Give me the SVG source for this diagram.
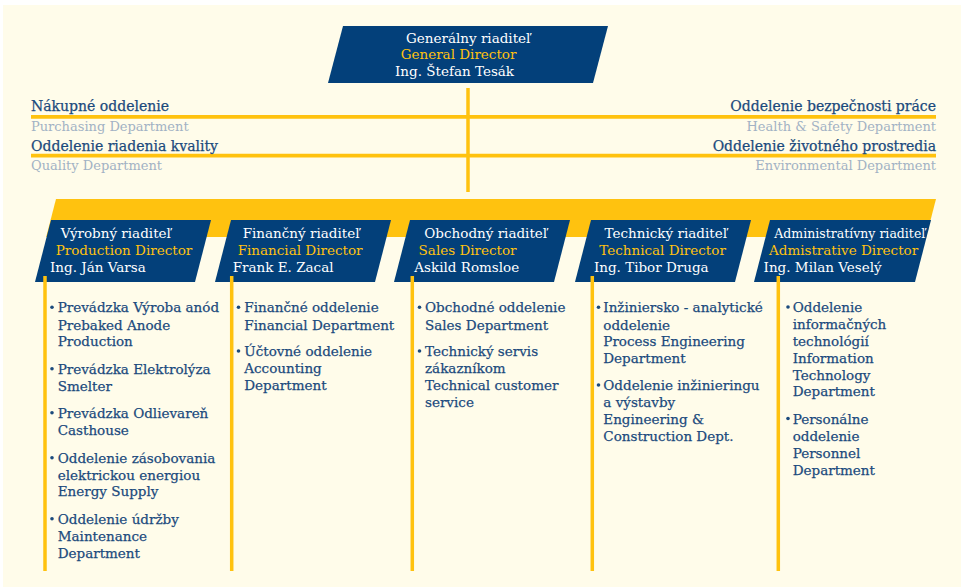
<svg xmlns="http://www.w3.org/2000/svg" width="964" height="588" viewBox="0 0 964 588">
<style>
text{font-family:"DejaVu Serif","Liberation Serif",serif;font-size:13.5px}
.w{fill:#ffffff}
.y{fill:#FFC20F}
.n{fill:#1B4A7D;stroke:#1B4A7D;stroke-width:0.25}
.t{font-size:14px}
.g{fill:#A2B2C4;font-size:13px}
.box{fill:#03407A}
.yl{stroke:#FFC20F;stroke-width:3.7;fill:none}
.col{stroke:#FFC20F;stroke-width:3.5;fill:none}
.b{fill:#1B4A7D}
</style>
<rect x="0" y="0" width="964" height="588" fill="#ffffff"/>
<rect x="3" y="5" width="958" height="582" fill="#FFFCEA"/>
<g id="connectors">
<line class="yl" x1="31" y1="116.8" x2="936" y2="116.8"/>
<line class="yl" x1="31" y1="155.7" x2="936" y2="155.7"/>
<line class="col" x1="468" y1="88" x2="468" y2="192"/>
<polygon points="56,199 936,199 926.2,237 46.2,237" fill="#FFC20F"/>
</g>
<g id="node-general-director">
<polygon class="box" points="343,26 608,26 593,83 328,83"/>
<text class="w" x="406" y="42.5">Generálny riaditeľ</text>
<text class="y" x="400.7" y="59">General Director</text>
<text class="w" x="395" y="75.5">Ing. Štefan Tesák</text>
</g>
<g id="node-purchasing">
<text class="n t" x="31" y="110.7">Nákupné oddelenie</text>
<text class="g" x="31" y="131">Purchasing Department</text>
</g>
<g id="node-quality">
<text class="n t" x="31" y="151">Oddelenie riadenia kvality</text>
<text class="g" x="31" y="169.5">Quality Department</text>
</g>
<g id="node-safety">
<text class="n t" x="936" y="110.7" text-anchor="end">Oddelenie bezpečnosti práce</text>
<text class="g" x="936" y="131" text-anchor="end">Health &amp; Safety Department</text>
</g>
<g id="node-environment">
<text class="n t" x="936" y="151" text-anchor="end">Oddelenie životného prostredia</text>
<text class="g" x="936" y="169.5" text-anchor="end">Environmental Department</text>
</g>
<g id="node-production">
<polygon class="box" points="51,220 211,220 195,282 35,282"/>
<text class="w" x="60.7" y="238">Výrobný riaditeľ</text>
<text class="y" x="55.7" y="255">Production Director</text>
<text class="w" x="50" y="272">Ing. Ján Varsa</text>
</g>
<g id="node-financial">
<polygon class="box" points="231,220 391,220 375,282 215,282"/>
<text class="w" x="242.7" y="238">Finančný riaditeľ</text>
<text class="y" x="237.7" y="255">Financial Director</text>
<text class="w" x="232.7" y="272">Frank E. Zacal</text>
</g>
<g id="node-sales">
<polygon class="box" points="410,220 570,220 554,282 394,282"/>
<text class="w" x="424.3" y="238">Obchodný riaditeľ</text>
<text class="y" x="418.6" y="255">Sales Director</text>
<text class="w" x="414.3" y="272">Askild Romsloe</text>
</g>
<g id="node-technical">
<polygon class="box" points="591,220 751,220 735,282 575,282"/>
<text class="w" x="604.6" y="238">Technický riaditeľ</text>
<text class="y" x="599.3" y="255">Technical Director</text>
<text class="w" x="593.9" y="272">Ing. Tibor Druga</text>
</g>
<g id="node-administrative">
<polygon class="box" points="770,220 931,220 915,282 754,282"/>
<text class="w" x="774.3" y="238" textLength="151" lengthAdjust="spacingAndGlyphs">Administratívny riaditeľ</text>
<text class="y" x="769" y="255">Admistrative Director</text>
<text class="w" x="763.6" y="272">Ing. Milan Veselý</text>
</g>
<g id="column-lines">
<line class="col" x1="45" y1="276" x2="45" y2="571"/>
<line class="col" x1="231.7" y1="276" x2="231.7" y2="571"/>
<line class="col" x1="412.3" y1="276" x2="412.3" y2="571"/>
<line class="col" x1="592.3" y1="276" x2="592.3" y2="571"/>
<line class="col" x1="778.3" y1="276" x2="778.3" y2="571"/>
</g>
<g id="list-production">
<circle class="b" cx="52" cy="307.3" r="1.8"/>
<text class="n" x="57.7" y="312.3">Prevádzka Výroba anód</text>
<text class="n" x="57.7" y="329.5">Prebaked Anode</text>
<text class="n" x="57.7" y="346">Production</text>
<circle class="b" cx="52" cy="368.8" r="1.8"/>
<text class="n" x="57.7" y="373.8">Prevádzka Elektrolýza</text>
<text class="n" x="57.7" y="391">Smelter</text>
<circle class="b" cx="52" cy="412.8" r="1.8"/>
<text class="n" x="57.7" y="417.8">Prevádzka Odlievareň</text>
<text class="n" x="57.7" y="435">Casthouse</text>
<circle class="b" cx="52" cy="457.8" r="1.8"/>
<text class="n" x="57.7" y="462.8">Oddelenie zásobovania</text>
<text class="n" x="57.7" y="479.5">elektrickou energiou</text>
<text class="n" x="57.7" y="496">Energy Supply</text>
<circle class="b" cx="52" cy="518.8" r="1.8"/>
<text class="n" x="57.7" y="523.8">Oddelenie údržby</text>
<text class="n" x="57.7" y="540.5">Maintenance</text>
<text class="n" x="57.7" y="557.8">Department</text>
</g>
<g id="list-financial">
<circle class="b" cx="238.5" cy="307.3" r="1.8"/>
<text class="n" x="244.3" y="312.3">Finančné oddelenie</text>
<text class="n" x="244.3" y="330">Financial Department</text>
<circle class="b" cx="238.5" cy="351" r="1.8"/>
<text class="n" x="244.3" y="356">Účtovné oddelenie</text>
<text class="n" x="244.3" y="373.3">Accounting</text>
<text class="n" x="244.3" y="390">Department</text>
</g>
<g id="list-sales">
<circle class="b" cx="419.5" cy="307.3" r="1.8"/>
<text class="n" x="425" y="312.3">Obchodné oddelenie</text>
<text class="n" x="425" y="330">Sales Department</text>
<circle class="b" cx="419.5" cy="351" r="1.8"/>
<text class="n" x="425" y="356">Technický servis</text>
<text class="n" x="425" y="373.3">zákazníkom</text>
<text class="n" x="425" y="390">Technical customer</text>
<text class="n" x="425" y="406.5">service</text>
</g>
<g id="list-technical">
<circle class="b" cx="598.5" cy="307.3" r="1.8"/>
<text class="n" x="603.3" y="312.3">Inžiniersko - analytické</text>
<text class="n" x="603.3" y="329.5">oddelenie</text>
<text class="n" x="603.3" y="346">Process Engineering</text>
<text class="n" x="603.3" y="362.8">Department</text>
<circle class="b" cx="598.5" cy="385" r="1.8"/>
<text class="n" x="603.3" y="390">Oddelenie inžinieringu</text>
<text class="n" x="603.3" y="406.5">a výstavby</text>
<text class="n" x="603.3" y="423.5">Engineering &amp;</text>
<text class="n" x="603.3" y="441">Construction Dept.</text>
</g>
<g id="list-administrative">
<circle class="b" cx="788" cy="307" r="1.8"/>
<text class="n" x="792.7" y="312">Oddelenie</text>
<text class="n" x="792.7" y="329.3">informačných</text>
<text class="n" x="792.7" y="346">technológií</text>
<text class="n" x="792.7" y="362.5">Information</text>
<text class="n" x="792.7" y="379.5">Technology</text>
<text class="n" x="792.7" y="396">Department</text>
<circle class="b" cx="788" cy="418.5" r="1.8"/>
<text class="n" x="792.7" y="423.5">Personálne</text>
<text class="n" x="792.7" y="441">oddelenie</text>
<text class="n" x="792.7" y="457.8">Personnel</text>
<text class="n" x="792.7" y="474.5">Department</text>
</g>
</svg>
